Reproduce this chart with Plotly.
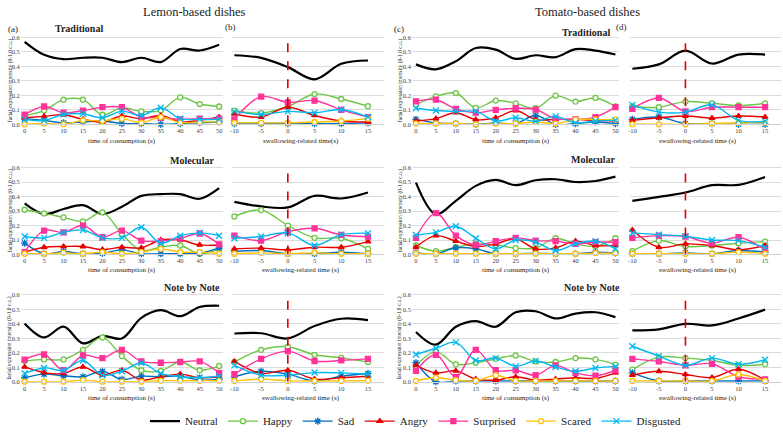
import plotly.graph_objects as go

# ---------------- data ----------------
x_consumption = [0, 5, 10, 15, 20, 25, 30, 35, 40, 45, 50]
x_swallowing = [-10, -5, 0, 5, 10, 15]
emotions = ["Neutral", "Happy", "Sad", "Angry", "Surprised", "Scared", "Disgusted"]
y_ticks = [0.0, 0.1, 0.2, 0.3, 0.4, 0.5, 0.6]

# Lemon - Traditional - consumption (a)
a1_neutral = [0.57, 0.48, 0.45, 0.46, 0.46, 0.43, 0.46, 0.43, 0.52, 0.51, 0.55]
a1_happy = [0.06, 0.095, 0.17, 0.17, 0.066, 0.114, 0.089, 0.095, 0.186, 0.14, 0.123]
a1_sad = [0.039, 0.027, 0.01, 0.016, 0.023, 0.005, 0.005, 0.0, 0.005, 0.011, 0.016]
a1_angry = [0.045, 0.055, 0.066, 0.034, 0.016, 0.057, 0.039, 0.061, 0.016, 0.027, 0.05]
a1_surprised = [0.066, 0.123, 0.08, 0.095, 0.118, 0.118, 0.05, 0.045, 0.034, 0.039, 0.039]
a1_scared = [0.0, 0.005, 0.0, 0.027, 0.023, 0.039, 0.011, 0.05, 0.011, 0.016, 0.016]
a1_disgusted = [0.032, 0.027, 0.068, 0.073, 0.045, 0.091, 0.061, 0.114, 0.039, 0.034, 0.034]
# Lemon - Traditional - swallowing (b)
b1_neutral = [0.477, 0.459, 0.395, 0.311, 0.418, 0.441]
b1_happy = [0.095, 0.077, 0.123, 0.209, 0.175, 0.125]
b1_sad = [0.005, 0.005, 0.005, 0.005, 0.005, 0.01]
b1_angry = [0.073, 0.05, 0.118, 0.061, 0.023, 0.016]
b1_surprised = [0.034, 0.191, 0.152, 0.164, 0.1, 0.05]
b1_scared = [0.01, 0.01, 0.01, 0.016, 0.023, 0.039]
b1_disgusted = [0.089, 0.068, 0.089, 0.08, 0.102, 0.05]
# Tomato - Traditional - consumption (c)
c1_neutral = [0.414, 0.38, 0.436, 0.527, 0.516, 0.452, 0.477, 0.464, 0.52, 0.509, 0.482]
c1_happy = [0.136, 0.193, 0.216, 0.114, 0.164, 0.145, 0.111, 0.198, 0.157, 0.182, 0.123]
c1_sad = [0.034, 0.009, 0.005, 0.0, 0.009, 0.005, 0.061, 0.0, 0.005, 0.016, 0.005]
c1_angry = [0.023, 0.039, 0.08, 0.032, 0.045, 0.095, 0.032, 0.034, 0.034, 0.027, 0.023]
c1_surprised = [0.159, 0.17, 0.107, 0.08, 0.1, 0.111, 0.102, 0.039, 0.034, 0.05, 0.118]
c1_scared = [0.005, 0.005, 0.005, 0.0, 0.005, 0.005, 0.016, 0.005, 0.032, 0.034, 0.032]
c1_disgusted = [0.111, 0.095, 0.089, 0.089, 0.023, 0.045, 0.02, 0.055, 0.009, 0.023, 0.027]
# Tomato - Traditional - swallowing (d)
d1_neutral = [0.384, 0.414, 0.509, 0.42, 0.482, 0.482]
d1_happy = [0.123, 0.118, 0.157, 0.145, 0.13, 0.145]
d1_sad = [0.034, 0.05, 0.005, 0.005, 0.0, 0.0]
d1_angry = [0.027, 0.045, 0.057, 0.043, 0.057, 0.05]
d1_surprised = [0.107, 0.182, 0.089, 0.118, 0.118, 0.118]
d1_scared = [0.0, 0.0, 0.0, 0.005, 0.011, 0.011]
d1_disgusted = [0.134, 0.084, 0.084, 0.134, 0.027, 0.02]

# Lemon - Molecular - consumption
a2_neutral = [0.353, 0.279, 0.314, 0.341, 0.279, 0.33, 0.405, 0.417, 0.417, 0.385, 0.458]
a2_happy = [0.309, 0.284, 0.256, 0.229, 0.291, 0.142, 0.027, 0.05, 0.062, 0.005, 0.039]
a2_sad = [0.078, 0.005, 0.021, 0.005, 0.009, 0.032, 0.005, 0.005, 0.005, 0.009, 0.044]
a2_angry = [0.016, 0.05, 0.055, 0.055, 0.034, 0.05, 0.046, 0.1, 0.1, 0.066, 0.066]
a2_surprised = [0.016, 0.165, 0.153, 0.2, 0.119, 0.165, 0.096, 0.092, 0.11, 0.145, 0.07]
a2_scared = [0.005, 0.005, 0.011, 0.005, 0.016, 0.005, 0.016, 0.039, 0.016, 0.016, 0.005]
a2_disgusted = [0.124, 0.115, 0.153, 0.169, 0.115, 0.115, 0.188, 0.078, 0.13, 0.149, 0.13]
# Lemon - Molecular - swallowing
b2_neutral = [0.364, 0.332, 0.325, 0.405, 0.387, 0.428]
b2_happy = [0.263, 0.307, 0.2, 0.115, 0.112, 0.039]
b2_sad = [0.021, 0.027, 0.005, 0.005, 0.016, 0.005]
b2_angry = [0.039, 0.044, 0.032, 0.05, 0.05, 0.089]
b2_surprised = [0.13, 0.096, 0.158, 0.181, 0.135, 0.124]
b2_scared = [0.005, 0.011, 0.005, 0.011, 0.005, 0.005]
b2_disgusted = [0.112, 0.124, 0.149, 0.062, 0.137, 0.147]
# Tomato - Molecular - consumption
c2_neutral = [0.497, 0.279, 0.371, 0.474, 0.515, 0.479, 0.513, 0.52, 0.501, 0.508, 0.538]
c2_happy = [0.062, 0.023, 0.05, 0.073, 0.066, 0.044, 0.044, 0.112, 0.073, 0.057, 0.112]
c2_sad = [0.011, 0.005, 0.046, 0.039, 0.005, 0.005, 0.009, 0.005, 0.005, 0.016, 0.011]
c2_angry = [0.05, 0.13, 0.092, 0.055, 0.073, 0.108, 0.039, 0.046, 0.092, 0.062, 0.062]
c2_surprised = [0.115, 0.286, 0.13, 0.066, 0.092, 0.115, 0.096, 0.092, 0.073, 0.085, 0.085]
c2_scared = [0.005, 0.005, 0.005, 0.005, 0.005, 0.005, 0.005, 0.005, 0.005, 0.009, 0.009]
c2_disgusted = [0.135, 0.153, 0.195, 0.112, 0.039, 0.1, 0.085, 0.027, 0.073, 0.092, 0.039]
# Tomato - Molecular - swallowing
d2_neutral = [0.371, 0.398, 0.428, 0.479, 0.481, 0.536]
d2_happy = [0.023, 0.096, 0.055, 0.062, 0.078, 0.089]
d2_sad = [0.005, 0.005, 0.011, 0.005, 0.027, 0.016]
d2_angry = [0.169, 0.05, 0.073, 0.062, 0.032, 0.062]
d2_surprised = [0.115, 0.13, 0.124, 0.078, 0.119, 0.032]
d2_scared = [0.005, 0.005, 0.005, 0.005, 0.016, 0.005]
d2_disgusted = [0.149, 0.137, 0.126, 0.1, 0.096, 0.05]

# Lemon - Note by Note - consumption
a3_neutral = [0.403, 0.306, 0.38, 0.265, 0.317, 0.299, 0.441, 0.494, 0.453, 0.516, 0.525]
a3_happy = [0.143, 0.154, 0.154, 0.22, 0.306, 0.177, 0.079, 0.075, 0.136, 0.079, 0.109]
a3_sad = [0.027, 0.052, 0.041, 0.034, 0.072, 0.016, 0.038, 0.034, 0.038, 0.011, 0.018]
a3_angry = [0.102, 0.063, 0.057, 0.102, 0.045, 0.079, 0.011, 0.034, 0.052, 0.027, 0.034]
a3_surprised = [0.152, 0.188, 0.079, 0.181, 0.163, 0.22, 0.14, 0.131, 0.136, 0.14, 0.061]
a3_scared = [0.0, 0.0, 0.0, 0.011, 0.0, 0.0, 0.0, 0.007, 0.007, 0.007, 0.007]
a3_disgusted = [0.057, 0.095, 0.079, 0.147, 0.045, 0.072, 0.129, 0.057, 0.034, 0.029, 0.038]
# Lemon - Note by Note - swallowing
b3_neutral = [0.333, 0.335, 0.299, 0.385, 0.435, 0.426]
b3_happy = [0.136, 0.22, 0.242, 0.186, 0.165, 0.136]
b3_sad = [0.034, 0.072, 0.052, 0.005, 0.038, 0.057]
b3_angry = [0.14, 0.057, 0.079, 0.018, 0.027, 0.038]
b3_surprised = [0.052, 0.158, 0.211, 0.143, 0.147, 0.158]
b3_scared = [0.005, 0.018, 0.005, 0.005, 0.005, 0.007]
b3_disgusted = [0.113, 0.045, 0.045, 0.063, 0.061, 0.052]
# Tomato - Note by Note - consumption
c3_neutral = [0.344, 0.256, 0.38, 0.419, 0.38, 0.48, 0.487, 0.437, 0.471, 0.48, 0.446]
c3_happy = [0.109, 0.208, 0.12, 0.131, 0.158, 0.181, 0.14, 0.136, 0.163, 0.154, 0.118]
c3_sad = [0.131, 0.0, 0.005, 0.005, 0.005, 0.005, 0.005, 0.005, 0.005, 0.005, 0.005]
c3_angry = [0.113, 0.061, 0.075, 0.018, 0.011, 0.034, 0.011, 0.018, 0.027, 0.023, 0.061]
c3_surprised = [0.075, 0.186, 0.034, 0.22, 0.079, 0.079, 0.045, 0.113, 0.061, 0.041, 0.079]
c3_scared = [0.005, 0.027, 0.011, 0.005, 0.045, 0.005, 0.005, 0.005, 0.005, 0.005, 0.005]
c3_disgusted = [0.188, 0.231, 0.272, 0.147, 0.163, 0.106, 0.143, 0.102, 0.072, 0.095, 0.106]
# Tomato - Note by Note - swallowing
d3_neutral = [0.355, 0.362, 0.4, 0.389, 0.437, 0.498]
d3_happy = [0.084, 0.17, 0.163, 0.147, 0.113, 0.12]
d3_sad = [0.061, 0.005, 0.005, 0.005, 0.005, 0.005]
d3_angry = [0.045, 0.072, 0.05, 0.029, 0.086, 0.011]
d3_surprised = [0.158, 0.14, 0.113, 0.124, 0.034, 0.016]
d3_scared = [0.005, 0.005, 0.005, 0.005, 0.05, 0.005]
d3_disgusted = [0.245, 0.177, 0.113, 0.163, 0.12, 0.152]

# ---------------- styling ----------------
W, H = 783, 436
FONT = "Liberation Serif"
styles = {
    "Neutral": dict(color="#000000", width=2.2, symbol=None),
    "Happy": dict(color="#6CC644", width=1.4, symbol="circle", fill="#ffffff"),
    "Sad": dict(color="#0070C0", width=1.4, symbol="asterisk", fill="#0070C0"),
    "Angry": dict(color="#E60000", width=1.4, symbol="triangle-up", fill="#E60000"),
    "Surprised": dict(color="#FF3399", width=1.4, symbol="square", fill="#FF3399"),
    "Scared": dict(color="#FFC000", width=1.4, symbol="circle", fill="#ffffff"),
    "Disgusted": dict(color="#00B8F0", width=1.4, symbol="x-thin", fill="#00B8F0"),
}

g = globals()
panels = []  # (name, col, row)
for r in (1, 2, 3):
    for c in ("a", "b", "c", "d"):
        panels.append((c + str(r), c, r))

col_px = {"a": (18.8, 221.6), "b": (230.3, 383.0), "c": (411.0, 619.0), "d": (629.3, 781.0)}
row_px = {1: (124.0, 34.5), 2: (256.0, 166.5), 3: (385.0, 295.5)}


def px(xp):
    return xp / W


def py(yp):
    return 1 - yp / H


fig = go.Figure()
layout_axes = {}
shapes = []
for i, (name, col, row) in enumerate(panels, start=1):
    swallow = col in ("b", "d")
    xs = x_swallowing if swallow else x_consumption
    xa = "x" if i == 1 else f"x{i}"
    ya = "y" if i == 1 else f"y{i}"
    for emo in emotions:
        st = styles[emo]
        vals = g[f"{name}_{emo.lower()}"]
        marker = None
        mode = "lines"
        if st["symbol"]:
            mode = "lines+markers"
            marker = dict(symbol=st["symbol"], size=5 if emo not in ("Disgusted", "Sad") else 6,
                          color=st["fill"], line=dict(color=st["color"], width=1.3))
        fig.add_trace(go.Scatter(
            x=xs, y=vals, mode=mode, name=emo, legendgroup=emo, showlegend=(i == 1),
            line=dict(color=st["color"], width=st["width"], shape="spline", smoothing=1.0),
            marker=marker, xaxis=xa, yaxis=ya, cliponaxis=False))
    x0, x1 = col_px[col]
    yb, yt = row_px[row]
    key = "" if i == 1 else str(i)
    layout_axes["xaxis" + key] = dict(
        domain=[px(x0), px(x1)], anchor=ya,
        range=[-10.5, 18] if swallow else [-1, 51],
        tickvals=xs, ticktext=[str(v) for v in xs],
        tickfont=dict(size=6.5, family=FONT, color="#404040"),
        showgrid=False, zeroline=False, showline=True, linecolor="#d0d0d0", linewidth=1,
        ticks="", fixedrange=True)
    layout_axes["yaxis" + key] = dict(
        domain=[py(yb), py(yt)], anchor=xa, range=[0, 0.61],
        tickvals=y_ticks, ticktext=[f"{v:.1f}" for v in y_ticks],
        showticklabels=not swallow,
        tickfont=dict(size=6.5, family=FONT, color="#404040"),
        showgrid=True, gridcolor="#dcdcdc", gridwidth=1, zeroline=False, showline=False,
        ticks="", fixedrange=True)
    if swallow:
        shapes.append(dict(type="line", xref=xa, yref=ya, x0=0, x1=0, y0=0, y1=0.6,
                           line=dict(color="#E00000", width=1.6, dash="dash"), layer="above"))

annotations = []


def ann(text, x, y, size, bold=False, angle=0, color="#222222"):
    annotations.append(dict(
        text=f"<b>{text}</b>" if bold else text, x=px(x), y=py(y), xref="paper", yref="paper",
        showarrow=False, xanchor="center", yanchor="middle", textangle=angle,
        font=dict(size=size, family=FONT, color=color)))


ann("Lemon-based dishes", 193, 10, 12.5)
ann("Tomato-based dishes", 587, 10, 12.5)
ann("(a)", 11, 27, 9)
ann("(b)", 229, 25, 9)
ann("(c)", 398, 27, 9)
ann("(d)", 621, 25, 9)
ann("Traditional", 77, 27, 10, bold=True)
ann("Traditional", 585, 31, 10, bold=True)
ann("Molecular", 190, 161, 10, bold=True)
ann("Molecular", 593, 160, 10, bold=True)
ann("Note by Note", 190, 289, 10, bold=True)
ann("Note by Note", 592, 289, 10, bold=True)

xt_y = {1: 141, 2: 272, 3: 402}
for r in (1, 2, 3):
    ann("time of consumption (s)", 120, xt_y[r], 7)
    ann("time of consumption (s)", 515, xt_y[r], 7)
    ann("swallowing-related time(s)" if r == 1 else "swallowing-related time (s)", 300, xt_y[r], 7)
    ann("swallowing-related time (s)", 698, xt_y[r], 7)
    yc = (row_px[r][0] + row_px[r][1]) / 2
    ann("facial expression intensity (0-1.0 c.u.)", 8, yc, 5.5, angle=-90)
    ann("facial expression intensity (0-1.0 c.u.)", 399, yc, 5.5, angle=-90)

fig.update_layout(
    width=W, height=H, margin=dict(l=0, r=0, t=0, b=0),
    paper_bgcolor="white", plot_bgcolor="white",
    showlegend=True,
    legend=dict(orientation="h", x=px(415), xanchor="center", y=py(425), yanchor="middle",
                font=dict(size=11, family=FONT, color="#222222"), itemwidth=30,
                bgcolor="rgba(0,0,0,0)", tracegroupgap=0),
    shapes=shapes, annotations=annotations,
    **layout_axes)

fig.write_html("out.html", config={"displayModeBar": False},
               post_script="document.body.style.margin='0';document.body.style.overflow='hidden';")
